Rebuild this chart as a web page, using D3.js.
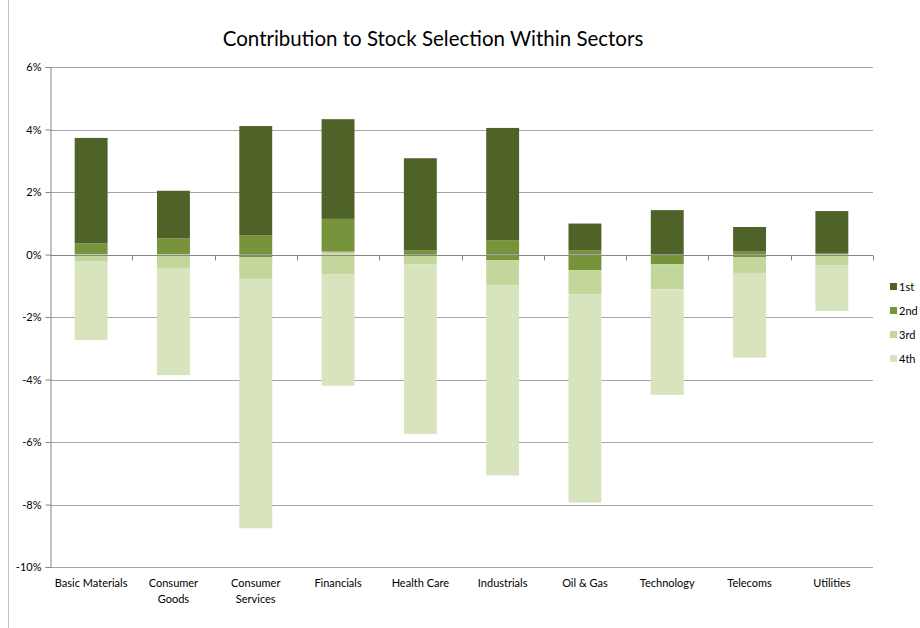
<!DOCTYPE html>
<html>
<head>
<meta charset="utf-8">
<script src="https://cdn.jsdelivr.net/npm/d3@7"></script>
<style>
  html, body { margin: 0; padding: 0; background: #fff; }
  svg { display: block; font-family: Lato, "Liberation Sans", sans-serif; }
</style>
</head>
<body>
<svg id="chart" width="920" height="628"></svg>
<script>
// Sectors along the x axis
const categories = ["Basic Materials", "Consumer Goods", "Consumer Services", "Financials",
  "Health Care", "Industrials", "Oil & Gas", "Technology", "Telecoms", "Utilities"];

// Positive contributions by quartile (%)
const gain1st = [3.37, 1.52, 3.49, 3.19, 2.94, 3.59, 0.85, 1.42, 0.77, 1.34];
const gain2nd = [0.36, 0.52, 0.62, 1.05, 0.14, 0.46, 0.14, 0.00, 0.11, 0.05];
const gain3rd = [0.00, 0.00, 0.00, 0.09, 0.00, 0.00, 0.00, 0.00, 0.00, 0.00];

// Negative contributions by quartile (%)
const loss2nd = [0.00, 0.00, -0.08, 0.00, -0.03, -0.18, -0.50, -0.31, -0.08, 0.00];
const loss3rd = [-0.21, -0.43, -0.70, -0.63, -0.28, -0.80, -0.77, -0.80, -0.51, -0.34];
const loss4th = [-2.53, -3.43, -7.98, -3.57, -5.43, -6.09, -6.67, -3.38, -2.71, -1.47];

// Axis ticks and legend entries
const yTicks = [6, 4, 2, 0, -2, -4, -6, -8, -10];
const legendLabels = ["1st", "2nd", "3rd", "4th"];
const quartileColors = { "1st": "#4f6228", "2nd": "#77933c", "3rd": "#c3d69b", "4th": "#d7e4bd" };

// Stack keys: positives build up from zero (2nd then 1st on top),
// negatives build down from zero (2nd, then 3rd, then 4th).
const stackKeys = [
  { key: "g3", q: "3rd", values: gain3rd },
  { key: "g2", q: "2nd", values: gain2nd },
  { key: "g1", q: "1st", values: gain1st },
  { key: "l2", q: "2nd", values: loss2nd },
  { key: "l3", q: "3rd", values: loss3rd },
  { key: "l4", q: "4th", values: loss4th }
];

const rows = categories.map((c, i) => {
  const r = { sector: c };
  stackKeys.forEach(s => { r[s.key] = s.values[i]; });
  return r;
});

const svg = d3.select("#chart");
const plot = { left: 50, right: 873, top: 67, bottom: 567 };

const x = d3.scaleBand().domain(categories)
  .range([plot.left, plot.right]).paddingInner(0.6).paddingOuter(0.3);
const y = d3.scaleLinear().domain([-10, 6]).range([plot.bottom, plot.top]);

// Outer chart frame edge
svg.append("line").attr("x1", 8.5).attr("x2", 8.5).attr("y1", 0).attr("y2", 628)
  .attr("stroke", "#bfbfbf").attr("stroke-width", 1);

// Title
svg.append("text").attr("x", 433).attr("y", 46).attr("text-anchor", "middle")
  .attr("font-size", 20.5).attr("fill", "#000")
  .text("Contribution to Stock Selection Within Sectors");

// Horizontal gridlines
svg.append("g").selectAll("line").data(yTicks.filter(t => t !== 0)).join("line")
  .attr("x1", plot.left).attr("x2", plot.right)
  .attr("y1", d => Math.round(y(d)) + 0.5).attr("y2", d => Math.round(y(d)) + 0.5)
  .attr("stroke", "#a6a6a6").attr("stroke-width", 1);

// Stacked bars
const stacked = d3.stack().keys(stackKeys.map(s => s.key))
  .offset(d3.stackOffsetDiverging)(rows);

svg.append("g").selectAll("g").data(stacked).join("g")
  .attr("fill", (d, i) => quartileColors[stackKeys[i].q])
  .selectAll("rect").data(d => d.filter(p => p[1] !== p[0])).join("rect")
  .attr("x", d => x(d.data.sector))
  .attr("width", x.bandwidth())
  .attr("y", d => y(Math.max(d[0], d[1])))
  .attr("height", d => Math.abs(y(d[0]) - y(d[1])));

// Y axis
const yAxis = svg.append("g").attr("transform", `translate(${plot.left + 0.5},0)`)
  .call(d3.axisLeft(y).tickValues(yTicks).tickSize(5).tickFormat(d => d + "%"));
yAxis.select(".domain").attr("stroke", "#868686");
yAxis.selectAll(".tick line").attr("stroke", "#868686");
yAxis.selectAll(".tick text").attr("font-size", 11).attr("fill", "#000")
  .attr("font-family", "Lato, 'Liberation Sans', sans-serif").attr("x", -9);

// X axis at zero with tick marks between categories
const zeroY = Math.round(y(0)) + 0.5;
svg.append("line").attr("x1", plot.left).attr("x2", plot.right)
  .attr("y1", zeroY).attr("y2", zeroY).attr("stroke", "#868686").attr("stroke-width", 1.2);
const boundaries = categories.map(c => x(c) - x.step() * x.paddingInner() / 2).slice(1)
  .concat([plot.right]);
svg.append("g").selectAll("line").data(boundaries).join("line")
  .attr("x1", d => Math.round(d) + 0.5).attr("x2", d => Math.round(d) + 0.5)
  .attr("y1", zeroY).attr("y2", zeroY + 5)
  .attr("stroke", "#868686");

// Category labels (wrapped on two lines where needed)
const wrapped = {
  "Consumer Goods": ["Consumer", "Goods"],
  "Consumer Services": ["Consumer", "Services"]
};
const catLabels = svg.append("g").selectAll("text").data(categories).join("text")
  .attr("x", d => x(d) + x.bandwidth() / 2)
  .attr("y", 587).attr("text-anchor", "middle")
  .attr("font-size", 11).attr("fill", "#000");
catLabels.each(function (d) {
  const lines = wrapped[d] || [d];
  d3.select(this).selectAll("tspan").data(lines).join("tspan")
    .attr("x", x(d) + x.bandwidth() / 2)
    .attr("dy", (l, i) => i === 0 ? 0 : 16)
    .text(l => l);
});

// Legend
const legend = svg.append("g").selectAll("g").data(legendLabels).join("g")
  .attr("transform", (d, i) => `translate(890,${283 + i * 24})`);
legend.append("rect").attr("width", 7).attr("height", 7)
  .attr("fill", d => quartileColors[d]);
legend.append("text").attr("x", 9).attr("y", 7.5)
  .attr("font-size", 11).attr("fill", "#000").text(d => d);
</script>
</body>
</html>
